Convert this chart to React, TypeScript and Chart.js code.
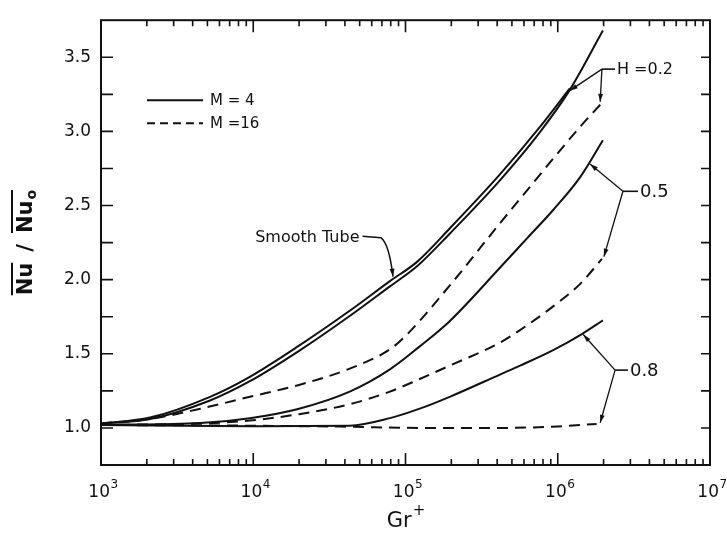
import React, { useEffect, useRef } from 'react';
import { Chart, registerables } from 'chart.js';

Chart.register(...registerables);

// ---------------- data (Gr+ , Nu/Nu0) ----------------
const smoothTubeX = [1000, 2100, 5200, 9500, 20000, 43000, 79000, 119000, 195000, 417000, 764000, 1200000];
const smoothTubeY = [1.03, 1.07, 1.21, 1.345, 1.555, 1.79, 1.99, 2.12, 2.345, 2.71, 3.03, 3.29];

const h02m4X = [1000, 2100, 5200, 9500, 20000, 43000, 79000, 119000, 195000, 417000, 764000, 1200000, 1980000];
const h02m4Y = [1.03, 1.06, 1.185, 1.315, 1.52, 1.755, 1.955, 2.09, 2.31, 2.67, 2.995, 3.28, 3.68];

const h02m16X = [1000, 2100, 4500, 9500, 20000, 43000, 79000, 100000, 195000, 417000, 592000, 1400000, 1900000];
const h02m16Y = [1.03, 1.06, 1.13, 1.21, 1.29, 1.4, 1.53, 1.62, 1.96, 2.38, 2.57, 3.03, 3.18];

const h05m4X = [1000, 4500, 9500, 20000, 43000, 79000, 124000, 195000, 417000, 630000, 933000, 1400000, 1980000];
const h05m4Y = [1.02, 1.033, 1.066, 1.13, 1.245, 1.395, 1.55, 1.72, 2.08, 2.28, 2.47, 2.69, 2.94];

const h05m16X = [1000, 4500, 9500, 20000, 43000, 79000, 124000, 195000, 417000, 565000, 933000, 1400000, 1950000];
const h05m16Y = [1.02, 1.03, 1.05, 1.093, 1.16, 1.245, 1.33, 1.42, 1.575, 1.66, 1.82, 1.97, 2.14];

const h08m4X = [1000, 9500, 43000, 79000, 124000, 195000, 417000, 565000, 933000, 1450000, 1980000];
const h08m4Y = [1.02, 1.012, 1.015, 1.066, 1.13, 1.21, 1.36, 1.42, 1.525, 1.635, 1.725];

const h08m16X = [1000, 9500, 43000, 124000, 417000, 1000000, 1800000];
const h08m16Y = [1.02, 1.015, 1.008, 1.0, 1.0, 1.01, 1.027];

// ---------------- ticks / labels ----------------
const xTickValues = [1e3, 1e4, 1e5, 1e6, 1e7];
const xTickExponents = ['3', '4', '5', '6', '7'];
const yTickValues = [1.0, 1.5, 2.0, 2.5, 3.0, 3.5];
const yTickLabels = ['1.0', '1.5', '2.0', '2.5', '3.0', '3.5'];
const yMinorStep = 0.25;
const legendLabels = ['M = 4', 'M =16'];
const xTitle = 'Gr';
const xTitleSup = '+';
const yTitleMain = 'Nu';
const yTitleSub = 'o';

// callouts, anchored in data coordinates
const calloutTexts = ['H =0.2', '0.5', '0.8'];
const calloutTextPos = [[2.45e6, 3.42], [3.47e6, 2.596], [2.98e6, 1.39]];
const calloutHubs = [[1.95e6, 3.42], [2.68e6, 2.596], [2.38e6, 1.39]];
const calloutTips = [
  [[1.2e6, 3.275], [1.9e6, 3.2]],
  [[1.63e6, 2.78], [2.01e6, 2.155]],
  [[1.47e6, 1.63], [1.9e6, 1.035]],
];
const smoothLabel = 'Smooth Tube';
const smoothLabelPos = [10300, 2.28];
const smoothBend = [69000, 2.283];
const smoothCtrl = [78000, 2.24];
const smoothTip = [82800, 2.02];

const FONT = '"DejaVu Sans", "Liberation Sans", sans-serif';
const INK = '#111';

const pts = (xs: number[], ys: number[]) => xs.map((x, i) => ({ x, y: ys[i] }));

function arrowHead(ctx: CanvasRenderingContext2D, fx: number, fy: number, tx: number, ty: number, len = 8, half = 2.6) {
  const a = Math.atan2(ty - fy, tx - fx);
  ctx.beginPath();
  ctx.moveTo(tx, ty);
  ctx.lineTo(tx - len * Math.cos(a) + half * Math.sin(a), ty - len * Math.sin(a) - half * Math.cos(a));
  ctx.lineTo(tx - len * Math.cos(a) - half * Math.sin(a), ty - len * Math.sin(a) + half * Math.cos(a));
  ctx.closePath();
  ctx.fill();
}

const overlay = {
  id: 'overlay',
  afterDraw(chart: any) {
    const ctx: CanvasRenderingContext2D = chart.ctx;
    const xs = chart.scales.x;
    const ys = chart.scales.y;
    const ca = chart.chartArea;
    const P = (x: number, y: number) => [xs.getPixelForValue(x), ys.getPixelForValue(y)];
    ctx.save();
    ctx.strokeStyle = INK;
    ctx.fillStyle = INK;

    // frame
    ctx.lineWidth = 2;
    ctx.strokeRect(ca.left, ca.top, ca.right - ca.left, ca.bottom - ca.top);

    // x ticks (inward, bottom and top)
    ctx.lineWidth = 1.6;
    for (let d = 3; d < 7; d++) {
      for (let m = 1; m <= 9; m++) {
        const v = m * Math.pow(10, d);
        const px = xs.getPixelForValue(v);
        const len = m === 1 ? 12 : 6;
        ctx.beginPath();
        ctx.moveTo(px, ca.bottom);
        ctx.lineTo(px, ca.bottom - len);
        ctx.moveTo(px, ca.top);
        ctx.lineTo(px, ca.top + len);
        ctx.stroke();
      }
    }
    // y ticks (inward, left and right)
    for (let v = 1.0; v <= 3.5001; v += yMinorStep) {
      const py = ys.getPixelForValue(v);
      ctx.beginPath();
      ctx.moveTo(ca.left, py);
      ctx.lineTo(ca.left + 12, py);
      ctx.moveTo(ca.right, py);
      ctx.lineTo(ca.right - 9, py);
      ctx.stroke();
    }

    // x tick labels: 10^n
    ctx.textBaseline = 'alphabetic';
    xTickValues.forEach((v, i) => {
      const px = xs.getPixelForValue(v);
      ctx.font = `17px ${FONT}`;
      const wb = ctx.measureText('10').width;
      ctx.font = `12px ${FONT}`;
      const we = ctx.measureText(xTickExponents[i]).width;
      const x0 = px - (wb + we) / 2 + 2;
      ctx.font = `17px ${FONT}`;
      ctx.textAlign = 'left';
      ctx.fillText('10', x0, ca.bottom + 32);
      ctx.font = `12px ${FONT}`;
      ctx.fillText(xTickExponents[i], x0 + wb + 0.5, ca.bottom + 23);
    });

    // x title Gr+
    ctx.font = `21px ${FONT}`;
    const gw = ctx.measureText(xTitle).width;
    ctx.font = `15px ${FONT}`;
    const sw = ctx.measureText(xTitleSup).width;
    const gx = (ca.left + ca.right) / 2 - (gw + sw) / 2;
    ctx.font = `21px ${FONT}`;
    ctx.fillText(xTitle, gx, ca.bottom + 62);
    ctx.font = `15px ${FONT}`;
    ctx.fillText(xTitleSup, gx + gw + 1, ca.bottom + 50);

    // y title: Nu / Nu_o with overbars
    ctx.save();
    ctx.translate(24, (ca.top + ca.bottom) / 2);
    ctx.rotate(-Math.PI / 2);
    ctx.font = `bold 21px ${FONT}`;
    const nw = ctx.measureText(yTitleMain).width;
    const slashW = ctx.measureText('/').width;
    ctx.font = `bold 14px ${FONT}`;
    const ow = ctx.measureText(yTitleSub).width;
    const gap = 11;
    const total = nw + gap + slashW + gap + nw + ow + 1;
    let cx = -total / 2;
    const base = 8;
    ctx.font = `bold 21px ${FONT}`;
    ctx.textAlign = 'left';
    ctx.fillText(yTitleMain, cx, base);
    ctx.lineWidth = 2;
    ctx.beginPath();
    ctx.moveTo(cx, base - 20);
    ctx.lineTo(cx + nw, base - 20);
    cx += nw + gap;
    ctx.fillText('/', cx, base);
    cx += slashW + gap;
    ctx.fillText(yTitleMain, cx, base);
    ctx.moveTo(cx, base - 20);
    ctx.lineTo(cx + nw + ow + 1, base - 20);
    ctx.stroke();
    cx += nw + 1;
    ctx.font = `bold 14px ${FONT}`;
    ctx.fillText(yTitleSub, cx, base + 4);
    ctx.restore();

    // legend
    const lx = ca.left + 46;
    const ly = [ca.top + 80, ca.top + 103];
    ctx.lineWidth = 2;
    ctx.font = `15px ${FONT}`;
    ctx.textBaseline = 'middle';
    ctx.textAlign = 'left';
    legendLabels.forEach((lab, i) => {
      ctx.setLineDash(i === 0 ? [] : [8, 5]);
      ctx.beginPath();
      ctx.moveTo(lx, ly[i]);
      ctx.lineTo(lx + 56, ly[i]);
      ctx.stroke();
      ctx.setLineDash([]);
      ctx.fillText(lab, lx + 63, ly[i] + 1);
    });

    // smooth tube label
    ctx.font = `16px ${FONT}`;
    const [stx, sty] = P(smoothLabelPos[0], smoothLabelPos[1]);
    ctx.fillText(smoothLabel, stx, sty);
    const stw = ctx.measureText(smoothLabel).width;
    const [bx, by] = P(smoothBend[0], smoothBend[1]);
    const [qx, qy] = P(smoothCtrl[0], smoothCtrl[1]);
    const [tx, ty] = P(smoothTip[0], smoothTip[1]);
    ctx.lineWidth = 1.5;
    ctx.beginPath();
    ctx.moveTo(stx + stw + 3, sty - 2);
    ctx.lineTo(bx, by);
    ctx.quadraticCurveTo(qx, qy, tx, ty);
    ctx.stroke();
    arrowHead(ctx, qx, qy, tx, ty, 8, 2.5);

    // callouts
    calloutTexts.forEach((txt, i) => {
      const [hx, hy] = P(calloutHubs[i][0], calloutHubs[i][1]);
      const [tx0, ty0] = P(calloutTextPos[i][0], calloutTextPos[i][1]);
      ctx.font = `${i === 0 ? 16 : 18}px ${FONT}`;
      ctx.textBaseline = 'middle';
      ctx.fillText(txt, tx0, ty0 + 1);
      ctx.lineWidth = 1.6;
      ctx.beginPath();
      ctx.moveTo(hx, hy);
      ctx.lineTo(tx0 - 2, hy);
      ctx.stroke();
      ctx.lineWidth = 1.3;
      calloutTips[i].forEach((tp) => {
        const [px, py] = P(tp[0], tp[1]);
        ctx.beginPath();
        ctx.moveTo(hx, hy);
        ctx.lineTo(px, py);
        ctx.stroke();
        arrowHead(ctx, hx, hy, px, py, 8, 2.4);
      });
    });

    ctx.restore();
  },
};

export default function App() {
  const ref = useRef<HTMLCanvasElement>(null);
  useEffect(() => {
    const solid = (data: any) => ({
      data,
      borderColor: INK,
      borderWidth: 2,
      pointRadius: 0,
      fill: false,
      cubicInterpolationMode: 'monotone',
    });
    const dashed = (data: any) => ({ ...solid(data), borderDash: [11, 7] });
    const chart = new Chart(ref.current as HTMLCanvasElement, {
      type: 'line',
      data: {
        datasets: [
          { label: 'Smooth Tube', ...solid(pts(smoothTubeX, smoothTubeY)) },
          { label: 'H=0.2, M=4', ...solid(pts(h02m4X, h02m4Y)) },
          { label: 'H=0.2, M=16', ...dashed(pts(h02m16X, h02m16Y)) },
          { label: 'H=0.5, M=4', ...solid(pts(h05m4X, h05m4Y)) },
          { label: 'H=0.5, M=16', ...dashed(pts(h05m16X, h05m16Y)) },
          { label: 'H=0.8, M=4', ...solid(pts(h08m4X, h08m4Y)) },
          { label: 'H=0.8, M=16', ...dashed(pts(h08m16X, h08m16Y)) },
        ] as any,
      },
      options: {
        responsive: false,
        animation: false,
        layout: { padding: { left: 8, right: 17, top: 10, bottom: 0 } },
        plugins: { legend: { display: false }, tooltip: { enabled: false } },
        scales: {
          x: {
            type: 'logarithmic',
            min: 1e3,
            max: 1e7,
            afterBuildTicks: (axis: any) => {
              axis.ticks = xTickValues.map((v) => ({ value: v }));
            },
            afterFit: (s: any) => {
              s.height = 75;
            },
            ticks: { display: false },
            grid: { display: false, drawTicks: false },
            border: { display: false },
          },
          y: {
            type: 'linear',
            min: 0.75,
            max: 3.75,
            afterBuildTicks: (axis: any) => {
              axis.ticks = yTickValues.map((v) => ({ value: v }));
            },
            afterFit: (s: any) => {
              s.width = 93;
            },
            ticks: {
              callback: (_v: any, i: number) => yTickLabels[i],
              font: { family: FONT, size: 17 },
              color: INK,
              padding: 10,
              autoSkip: false,
            },
            grid: { display: false, drawTicks: false },
            border: { display: false },
          },
        },
      },
      plugins: [overlay],
    } as any);
    return () => chart.destroy();
  }, []);
  return (
    <div style={{ position: 'fixed', left: 0, top: 0, width: 727, height: 540, background: '#fff' }}>
      <canvas ref={ref} width={727} height={540} style={{ display: 'block', width: 727, height: 540 }} />
    </div>
  );
}
